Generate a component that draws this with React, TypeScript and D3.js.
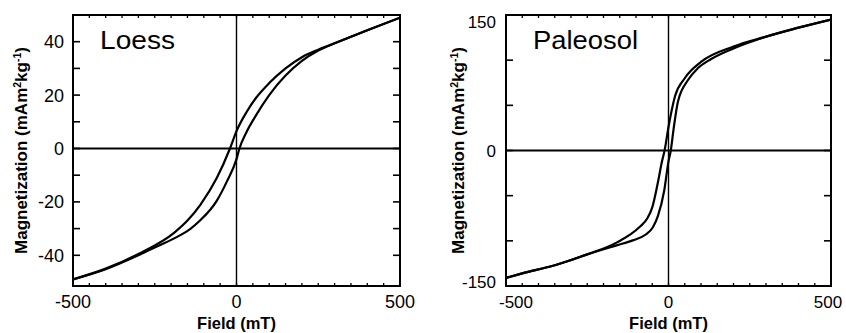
import React from "react";
import * as d3 from "d3";

// field (mT), magnetization (mAm2/kg)
const loessDescending: [number, number][] = [
  [-500, -49], [-400, -45], [-300, -39.5], [-190, -31.5], [-150, -27], [-110, -21],
  [-60, -11], [-20, 0], [0, 6.5], [30, 13.5], [60, 19], [100, 24.5], [150, 30],
  [200, 34.2], [250, 37], [300, 39.4], [400, 44.3], [500, 49],
];
const loessAscending: [number, number][] = [
  [-500, -49], [-400, -45.2], [-300, -40], [-240, -36.5], [-180, -33], [-140, -30],
  [-110, -26.8], [-60, -19.5], [-30, -12.5], [0, -4], [9, 0], [30, 6], [60, 12.5],
  [100, 20], [150, 27.3], [200, 32.8], [250, 36.7], [300, 39.4], [400, 44.3], [500, 49],
];
const paleosolDescending: [number, number][] = [
  [-500, -141], [-450, -136], [-350, -127], [-250, -115], [-160, -102], [-90, -85],
  [-65, -75], [-50, -63], [-33, -36], [-20, -12], [-12, 0], [0, 26], [20, 60], [50, 80],
  [100, 98], [200, 115], [300, 126], [400, 136], [500, 145],
];
const paleosolAscending: [number, number][] = [
  [-500, -141], [-450, -136], [-350, -127], [-250, -115], [-160, -105], [-110, -99.5],
  [-70, -93], [-48, -85], [-33, -73], [-13, -44], [0, -12], [7, 0], [15, 22], [29, 54],
  [60, 78], [90, 91], [130, 101], [200, 113], [300, 126], [400, 136], [500, 145],
];

const fieldLabels = [-500, 0, 500];
const fieldMinorTicks = d3.range(-450, 500, 50);
const loessYLabels = [40, 20, 0, -20, -40];
const loessYTicks = d3.range(-40, 50, 10);
const paleosolYLabels = [150, 0, -150];
const paleosolYTicks = d3.range(-100, 150, 50);

const FONT = "'Liberation Sans', Arial, Helvetica, sans-serif";

type PanelProps = {
  left: number;
  right: number;
  yDomain: [number, number];
  yTicks: number[];
  yLabels: number[];
  descending: [number, number][];
  ascending: [number, number][];
  name: string;
  nameLength: number;
  tickFont: number;
  titleX: number;
  labelRight: number;
  xLabelShift: number[];
};

function Panel(p: PanelProps) {
  const top = 15;
  const bottom = 286;
  const x = d3.scaleLinear().domain([-500, 500]).range([p.left, p.right]);
  const y = d3.scaleLinear().domain(p.yDomain).range([bottom, top]);
  const line = d3
    .line<[number, number]>()
    .x((d) => x(d[0]))
    .y((d) => y(d[1]))
    .curve(d3.curveMonotoneX);

  return (
    <g>
      <defs>
        <clipPath id={`clip-${p.name}`}>
          <rect x={p.left} y={top} width={p.right - p.left} height={bottom - top} />
        </clipPath>
      </defs>

      {/* zero lines */}
      <line x1={p.left} x2={p.right} y1={y(0)} y2={y(0)} stroke="#000" strokeWidth={2} />
      <line x1={x(0)} x2={x(0)} y1={top} y2={bottom} stroke="#000" strokeWidth={1.4} />

      {/* loops */}
      <g clipPath={`url(#clip-${p.name})`}>
        <path d={line(p.descending) || ""} fill="none" stroke="#000" strokeWidth={2.2} />
        <path d={line(p.ascending) || ""} fill="none" stroke="#000" strokeWidth={2.2} />
      </g>

      {/* frame */}
      <rect
        x={p.left}
        y={top}
        width={p.right - p.left}
        height={bottom - top}
        fill="none"
        stroke="#000"
        strokeWidth={2}
      />

      {/* inward ticks */}
      {fieldMinorTicks.map((t) => (
        <g key={`xt${t}`}>
          <line x1={x(t)} x2={x(t)} y1={bottom} y2={bottom - 3} stroke="#000" strokeWidth={1.3} />
          <line x1={x(t)} x2={x(t)} y1={top} y2={top + 3} stroke="#000" strokeWidth={1.3} />
        </g>
      ))}
      {p.yTicks.map((t) => (
        <g key={`yt${t}`}>
          <line x1={p.left} x2={p.left + 7} y1={y(t)} y2={y(t)} stroke="#000" strokeWidth={1.6} />
          <line x1={p.right} x2={p.right - 7} y1={y(t)} y2={y(t)} stroke="#000" strokeWidth={1.6} />
        </g>
      ))}

      {/* tick labels */}
      {p.yLabels.map((t) => {
        const yy = Math.min(Math.max(y(t), top + 7), bottom - 4);
        return (
          <text
            key={`yl${t}`}
            x={p.labelRight}
            y={yy}
            dy="0.36em"
            textAnchor="end"
            fontSize={p.tickFont}
            fontFamily={FONT}
          >
            {t}
          </text>
        );
      })}
      {fieldLabels.map((t, i) => (
        <text
          key={`xl${t}`}
          x={x(t) + p.xLabelShift[i]}
          y={308}
          textAnchor="middle"
          fontSize={p.tickFont}
          fontFamily={FONT}
        >
          {t}
        </text>
      ))}

      {/* sample name */}
      <text
        x={p.left + 27}
        y={49}
        fontSize={25}
        fontFamily={FONT}
        textLength={p.nameLength}
        lengthAdjust="spacingAndGlyphs"
      >
        {p.name}
      </text>

      {/* axis titles */}
      <text
        x={(p.left + p.right) / 2}
        y={329}
        textAnchor="middle"
        fontSize={16.5}
        fontWeight="bold"
        fontFamily={FONT}
      >
        Field (mT)
      </text>
      <text
        transform={`translate(${p.titleX},${(top + bottom) / 2}) rotate(-90)`}
        textAnchor="middle"
        fontSize={17}
        fontWeight="bold"
        fontFamily={FONT}
      >
        Magnetization (mAm
        <tspan fontSize={10.5} dy={-6}>2</tspan>
        <tspan dy={6}>kg</tspan>
        <tspan fontSize={10.5} dy={-6}>-1</tspan>
        <tspan dy={6}>)</tspan>
      </text>
    </g>
  );
}

export default function App() {
  return (
    <svg
      width={846}
      height={333}
      style={{ position: "absolute", left: 0, top: 0, background: "#fff" }}
    >
      <Panel
        left={73}
        right={400}
        yDomain={[-51.5, 50]}
        yTicks={loessYTicks}
        yLabels={loessYLabels}
        descending={loessDescending}
        ascending={loessAscending}
        name="Loess"
        nameLength={75}
        tickFont={18}
        titleX={27}
        labelRight={64}
        xLabelShift={[0, 0, 0]}
      />
      <Panel
        left={506}
        right={831}
        yDomain={[-150, 150]}
        yTicks={paleosolYTicks}
        yLabels={paleosolYLabels}
        descending={paleosolDescending}
        ascending={paleosolAscending}
        name="Paleosol"
        nameLength={105}
        tickFont={17}
        titleX={464}
        labelRight={496}
        xLabelShift={[10, 0, -3]}
      />
    </svg>
  );
}
